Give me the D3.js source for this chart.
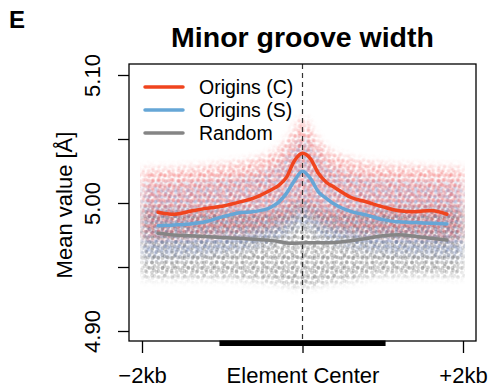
<!DOCTYPE html>
<html>
<head>
<meta charset="utf-8">
<script src="https://cdn.jsdelivr.net/npm/d3@7"></script>
<style>
  body { margin: 0; background: #fff; }
  svg { display: block; font-family: "Liberation Sans", Arial, Helvetica, sans-serif; }
</style>
</head>
<body>
<div id="chart"></div>
<script>
// smoothed mean profiles (bp from element center -> mean minor groove width)
const positions = [-1800, -1600, -1400, -1200, -1000, -800, -600, -400, -300, -200, -100, 0,
                   100, 200, 300, 400, 600, 800, 1000, 1200, 1400, 1600, 1800];
const originsC = [4.9928, 4.9912, 4.9935, 4.9958, 4.9975, 5.0005, 5.0040, 5.0100, 5.0135, 5.0200, 5.0330, 5.0388,
                  5.0345, 5.0230, 5.0160, 5.0122, 5.0045, 5.0008, 4.9970, 4.9940, 4.9932, 4.9942, 4.9912];
const originsS = [4.9823, 4.9828, 4.9836, 4.9855, 4.9892, 4.9922, 4.9933, 4.9965, 5.0005, 5.0075, 5.0175, 5.0248,
                  5.0190, 5.0085, 5.0035, 4.9990, 4.9935, 4.9905, 4.9870, 4.9853, 4.9847, 4.9842, 4.9836];
const random   = [4.9763, 4.9750, 4.9745, 4.9738, 4.9730, 4.9724, 4.9716, 4.9708, 4.9700, 4.9688, 4.9686, 4.9688,
                  4.9690, 4.9690, 4.9690, 4.9692, 4.9705, 4.9722, 4.9745, 4.9752, 4.9740, 4.9725, 4.9711];

// spread of the per-position dots (upper / lower edge of each cloud)
const cloudPositions = [-2000, -1500, -1000, -600, -300, -150, 0, 150, 300, 600, 1000, 1500, 2000];
const cloudCHi = [5.026, 5.027, 5.030, 5.034, 5.042, 5.052, 5.066, 5.052, 5.042, 5.034, 5.030, 5.028, 5.027];
const cloudCLo = [4.972, 4.973, 4.975, 4.978, 4.983, 4.988, 4.995, 4.988, 4.983, 4.978, 4.975, 4.973, 4.972];
const cloudSHi = [5.014, 5.015, 5.018, 5.022, 5.030, 5.040, 5.050, 5.040, 5.030, 5.022, 5.018, 5.016, 5.015];
const cloudSLo = [4.958, 4.959, 4.962, 4.966, 4.972, 4.978, 4.985, 4.978, 4.972, 4.966, 4.962, 4.960, 4.958];
const cloudRHi = [4.996, 4.995, 4.994, 4.993, 4.994, 4.997, 5.002, 4.997, 4.994, 4.993, 4.995, 4.996, 4.996];
const cloudRLo = [4.942, 4.942, 4.942, 4.940, 4.938, 4.936, 4.935, 4.936, 4.938, 4.940, 4.944, 4.944, 4.943];

const yTicks = [4.90, 4.95, 5.00, 5.05, 5.10];
const yTickLabels = ['4.90', '', '5.00', '', '5.10'];
const xTicks = [-2000, 0, 2000];
const xTickLabels = ['\u22122kb', 'Element Center', '+2kb'];
const elementSpan = [-1035, 1035];

const seriesNames = ['Origins (C)', 'Origins (S)', 'Random'];
const lineColors = ['#f0441e', '#66a6d6', '#858585'];
const dotColors = ['#ee3333', '#4565b5', '#444444'];

const W = 490, H = 389;
const box = { left: 129, right: 476, top: 64, bottom: 341 };

const svg = d3.select('#chart').append('svg')
  .attr('width', W).attr('height', H);

const x = d3.scaleLinear().domain([-2000, 2000]).range([142, 463]);
const y = d3.scaleLinear().domain([4.90, 5.10]).range([331, 75]);

const defs = svg.append('defs');
defs.append('clipPath').attr('id', 'plotclip')
  .append('rect')
  .attr('x', box.left).attr('y', box.top)
  .attr('width', box.right - box.left).attr('height', box.bottom - box.top);

const blur = defs.append('filter').attr('id', 'soft')
  .attr('x', '-20%').attr('y', '-60%').attr('width', '140%').attr('height', '220%');
blur.append('feGaussianBlur').attr('stdDeviation', 4.5);

// clouds: band between lower / upper edge, filled with a dot texture
const clouds = [
  { key: 'R', hi: cloudRHi, lo: cloudRLo, color: dotColors[2], op: 0.25 },
  { key: 'S', hi: cloudSHi, lo: cloudSLo, color: dotColors[1], op: 0.21 },
  { key: 'C', hi: cloudCHi, lo: cloudCLo, color: dotColors[0], op: 0.25 }
];

const band = d3.area()
  .x((d, i) => x(cloudPositions[i]))
  .y0(d => y(d[0]))
  .y1(d => y(d[1]))
  .curve(d3.curveMonotoneX);

const cloudG = svg.append('g').attr('clip-path', 'url(#plotclip)');

const tiles = [
  { s: 10, pts: [[2, 2.5], [6.5, 2], [4.5, 6], [8, 7.5], [2.5, 8]] },
  { s: 13, pts: [[3, 4], [9, 2.5], [6.5, 8], [11, 10], [2.5, 11]] }
];

clouds.forEach((c, ci) => {
  tiles.forEach((t, ti) => {
    const p = defs.append('pattern')
      .attr('id', `dots-${c.key}-${ti}`)
      .attr('patternUnits', 'userSpaceOnUse')
      .attr('width', t.s).attr('height', t.s)
      .attr('patternTransform', `translate(${ci * 3.3},${ci * 4.1})`);
    p.selectAll('circle').data(t.pts).enter().append('circle')
      .attr('cx', d => d[0]).attr('cy', d => d[1]).attr('r', 1.9)
      .attr('fill', c.color).attr('fill-opacity', c.op);
  });

  const m = defs.append('mask').attr('id', `mask-${c.key}`)
    .attr('maskUnits', 'userSpaceOnUse')
    .attr('x', 0).attr('y', 0).attr('width', W).attr('height', H);
  m.append('path')
    .datum(c.lo.map((v, i) => [v, c.hi[i]]))
    .attr('d', band)
    .attr('fill', '#fff')
    .attr('filter', 'url(#soft)');

  tiles.forEach((t, ti) => {
    cloudG.append('rect')
      .attr('x', x(-2000) - 2).attr('y', box.top)
      .attr('width', x(2000) - x(-2000) + 4).attr('height', box.bottom - box.top)
      .attr('fill', `url(#dots-${c.key}-${ti})`)
      .attr('mask', `url(#mask-${c.key})`);
  });
});

// element center
svg.append('line')
  .attr('x1', x(0)).attr('x2', x(0))
  .attr('y1', box.top).attr('y2', box.bottom)
  .attr('stroke', '#333').attr('stroke-width', 1.2)
  .attr('stroke-dasharray', '5,4');

// mean lines
const line = d3.line()
  .x((d, i) => x(positions[i]))
  .y(d => y(d))
  .curve(d3.curveMonotoneX);

[random, originsS, originsC].forEach((s, i) => {
  svg.append('path')
    .datum(s)
    .attr('d', line)
    .attr('fill', 'none')
    .attr('stroke', lineColors[2 - i])
    .attr('stroke-width', 3.5)
    .attr('stroke-linecap', 'round')
    .attr('stroke-linejoin', 'round');
});

// box
svg.append('rect')
  .attr('x', box.left).attr('y', box.top)
  .attr('width', box.right - box.left).attr('height', box.bottom - box.top)
  .attr('fill', 'none').attr('stroke', '#000').attr('stroke-width', 1.3);

// Y axis
const yAxis = svg.append('g')
  .attr('transform', `translate(${box.left},0)`)
  .call(d3.axisLeft(y).tickValues(yTicks).tickSize(11)
    .tickFormat((d, i) => yTickLabels[i]));
yAxis.select('.domain').remove();
yAxis.selectAll('.tick line').attr('stroke', '#000').attr('stroke-width', 1.3);
yAxis.selectAll('.tick text')
  .attr('x', 0).attr('y', -29).attr('dy', null)
  .attr('transform', 'rotate(-90)')
  .attr('text-anchor', 'middle')
  .attr('fill', '#000')
  .style('font-size', '22px')
  .style('font-family', '"Liberation Sans", Arial, Helvetica, sans-serif');

// X axis
const xAxis = svg.append('g')
  .attr('transform', `translate(0,${box.bottom})`)
  .call(d3.axisBottom(x).tickValues(xTicks).tickSize(12)
    .tickFormat((d, i) => xTickLabels[i]));
xAxis.select('.domain').remove();
xAxis.selectAll('.tick line').attr('stroke', '#000').attr('stroke-width', 1.3);
xAxis.selectAll('.tick text')
  .attr('y', 42).attr('dy', null)
  .attr('fill', '#000')
  .style('font-size', '22px')
  .style('font-family', '"Liberation Sans", Arial, Helvetica, sans-serif');

// element extent bar
svg.append('rect')
  .attr('x', x(elementSpan[0])).attr('y', box.bottom - 0.5)
  .attr('width', x(elementSpan[1]) - x(elementSpan[0])).attr('height', 5.5)
  .attr('fill', '#000');

// axis title
svg.append('text')
  .attr('transform', `translate(72,${(y(4.90) + y(5.10)) / 2 + 2}) rotate(-90)`)
  .attr('text-anchor', 'middle')
  .style('font-size', '22px')
  .text('Mean value [Å]');

// title
svg.append('text')
  .attr('x', (box.left + box.right) / 2).attr('y', 47)
  .attr('text-anchor', 'middle')
  .style('font-size', '28.5px').style('font-weight', 'bold')
  .text('Minor groove width');

svg.append('text')
  .attr('x', 9).attr('y', 28)
  .style('font-size', '24px').style('font-weight', 'bold')
  .text('E');

// legend
const legend = svg.append('g').attr('transform', 'translate(145,87)');
seriesNames.forEach((name, i) => {
  const g = legend.append('g').attr('transform', `translate(0,${i * 23})`);
  g.append('line')
    .attr('x1', 0).attr('x2', 38)
    .attr('stroke', lineColors[i]).attr('stroke-width', 3.5)
    .attr('stroke-linecap', 'round');
  g.append('text')
    .attr('x', 54).attr('dy', '0.35em')
    .style('font-size', '19.5px')
    .text(name);
});
</script>
</body>
</html>
